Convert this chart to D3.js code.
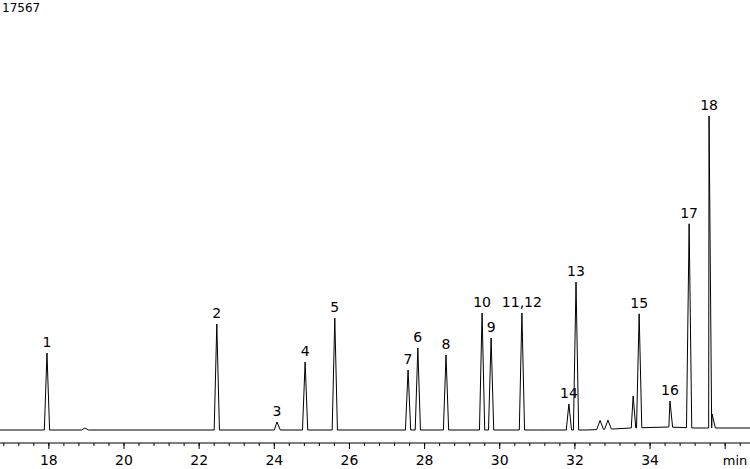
<!DOCTYPE html>
<html><head><meta charset="utf-8">
<script src="https://cdn.jsdelivr.net/npm/d3@7"></script>
<style>body{margin:0;background:#fff}text{font-family:"DejaVu Sans",sans-serif}</style>
</head><body><svg id="chart" width="750" height="469"></svg>
<script>
// Peak list: retention time (min), height above baseline
const peakTimes   = [17.95, 18.96, 22.47, 24.07, 24.82, 25.61, 27.56, 27.82, 28.57, 29.53, 29.77, 30.59, 31.84, 32.03, 32.67, 32.88, 33.55, 33.71, 34.53, 35.04, 35.57, 35.65];
const peakHeights = [77, 2, 106, 8, 68, 112, 60, 82, 75, 117, 92, 117, 26, 148, 9, 9, 32, 114, 26, 204, 312, 14];
const peakLabels  = ["1", "", "2", "3", "4", "5", "7", "6", "8", "10", "9", "11,12", "14", "13", "", "", "", "15", "16", "17", "18", ""];
// baseline drift (min, level)
const baseTimes  = [16.7, 24.0, 31.0, 32.3, 33.0, 33.5, 34.5, 35.2, 36.7];
const baseLevels = [0, 0, 0, 0, 1, 2, 3, 2, 2];
const majorTicks = [18, 20, 22, 24, 26, 28, 30, 32, 34, 36];

const svg = d3.select("#chart");
const x = d3.scaleLinear().domain([16.7, 36.66]).range([0, 750]);
const y = d3.scaleLinear().domain([0, 312]).range([430, 118]);
const base = d3.scaleLinear().domain(baseTimes).range(baseLevels);

// trace points: baseline either side of each apex
let pts = baseTimes.map(t => [t, base(t)]);
peakTimes.forEach((t, i) => {
  const w = peakHeights[i] > 20 ? 0.07 : 0.09;
  pts.push([t - w, base(t - w)], [t, base(t) + peakHeights[i]], [t + w, base(t + w)]);
});
pts.sort((a, b) => a[0] - b[0]);

svg.append("path")
  .attr("d", d3.line().x(d => x(d[0])).y(d => y(d[1]))(pts))
  .attr("fill", "none").attr("stroke", "#000").attr("stroke-width", 1);

// peak labels
peakTimes.forEach((t, i) => {
  if (!peakLabels[i]) return;
  svg.append("text")
    .attr("x", x(t)).attr("y", y(base(t) + peakHeights[i]) - 6)
    .attr("text-anchor", "middle").style("font-size", "14px")
    .text(peakLabels[i]);
});

// x axis
const axis = svg.append("g").attr("transform", "translate(0,443)");
axis.append("line").attr("x1", 0).attr("x2", 750).attr("stroke", "#000");
const minor = d3.range(16.8, 36.7, 0.4);
axis.selectAll(".minor").data(minor).enter().append("line")
  .attr("x1", d => x(d)).attr("x2", d => x(d)).attr("y1", 0).attr("y2", 3)
  .attr("stroke", "#000");
axis.selectAll(".major").data(majorTicks).enter().append("line")
  .attr("x1", d => x(d)).attr("x2", d => x(d)).attr("y1", 0).attr("y2", 6)
  .attr("stroke", "#000");
axis.selectAll(".lab").data(majorTicks.filter(d => d < 36)).enter().append("text")
  .attr("x", d => x(d)).attr("y", 22).attr("text-anchor", "middle")
  .style("font-size", "14px").text(d => d);
axis.append("text").attr("x", 735).attr("y", 22).attr("text-anchor", "middle")
  .style("font-size", "13px").text("min");

svg.append("text").attr("x", 2).attr("y", 12).style("font-size", "12px").text("17567");
</script></body></html>
